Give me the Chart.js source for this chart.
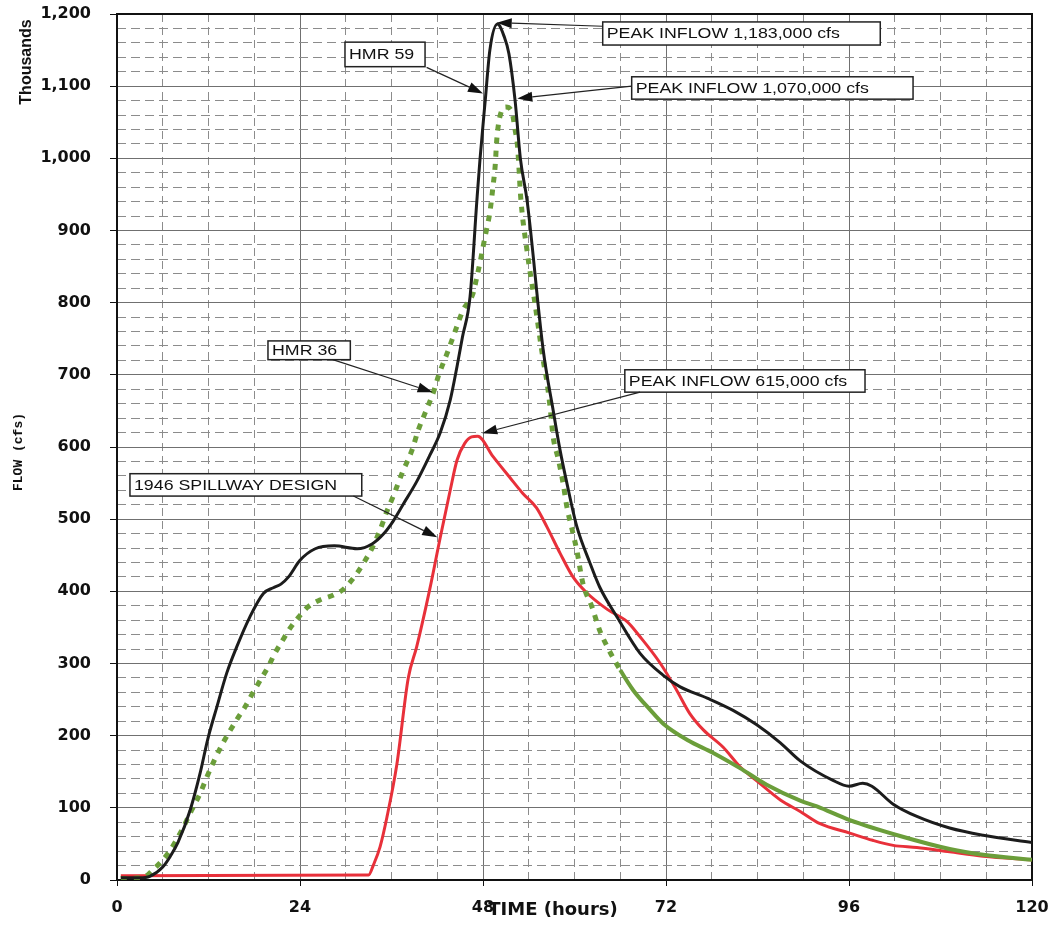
<!DOCTYPE html>
<html>
<head>
<meta charset="utf-8">
<script src="https://cdn.jsdelivr.net/npm/chart.js@4.4.0/dist/chart.umd.min.js"></script>
<style>
  body { margin: 0; background: #fff; }
  #wrap { width: 1053px; height: 927px; }
</style>
</head>
<body>
<div id="wrap"><canvas id="myChart" width="1053" height="927"></canvas></div>
<script>
// HMR 59 (black)
var hmr59Hours = [0.5, 3, 4.3, 6, 7, 8, 9.6, 10.9, 11.9, 13.1, 14.4, 15.7, 17.4, 19.2, 20.5, 21.5, 22.5, 24, 26, 28.5, 31.5, 33.5, 35, 36.2, 37.5, 39.3, 41, 42.4, 43.7, 44.6, 45.3, 46.3, 47.2, 47.6, 48.3, 48.9, 49.9, 50.8, 51.4, 52.2, 52.9, 53.8, 55.9, 57.2, 58.1, 59, 60.3, 62, 63.3, 65.6, 68.6, 71.6, 73.8, 77.4, 80.8, 83.9, 87, 89.6, 93.9, 96, 97.8, 99, 101.8, 104.9, 109.2, 113.6, 120];
var hmr59Flow = [3, 3, 5, 18, 33, 52, 97, 148, 195, 240, 287, 323, 364, 397, 405, 410, 420, 443, 459, 463, 459, 466, 480, 497, 520, 552, 588, 620, 665, 712, 752, 808, 942, 998, 1081, 1150, 1186, 1168, 1145, 1081, 1000, 940, 734, 651, 596, 550, 490, 440, 406, 364, 314, 284, 268, 252, 235, 215, 190, 165, 138, 130, 134, 130, 105, 88, 72, 62, 52];

// HMR 36 (green dotted)
var hmr36Hours = [0.5, 3.5, 4.7, 6.7, 8.5, 9.8, 10.9, 11.8, 12.9, 13.9, 15.7, 16.8, 17.8, 18.8, 19.8, 20.7, 21.6, 22.7, 23.8, 25, 26.6, 28.4, 29.6, 30.6, 31.6, 32.5, 33.5, 34.5, 35.4, 36.2, 37.4, 38.7, 39.5, 40.4, 41.5, 42.2, 43.3, 44.3, 45.4, 46.7, 47.2, 47.6, 48, 48.5, 48.9, 49.3, 49.6, 49.8, 50.2, 51, 51.8, 52.2, 52.5, 52.7, 52.9, 53.8, 54.8, 55.9, 56.4, 56.8, 57.2, 57.9, 58.5, 59, 59.7, 60.3, 61.1, 62.3, 63.3, 64.4, 66, 67.7, 69.9, 71.6, 74.8, 78.2, 81.7, 85.2, 89.6, 91.8, 96.1, 102.7, 109.2, 113.6, 120];
var hmr36Flow = [2, 4, 14, 37, 69, 97, 120, 143, 169, 190, 222, 240, 259, 277, 295, 314, 330, 349, 364, 378, 388, 395, 402, 413, 427, 442, 461, 485, 511, 531, 564, 596, 623, 647, 676, 700, 730, 759, 790, 813, 836, 855, 877, 903, 925, 960, 990, 1025, 1057, 1071, 1064, 1040, 1020, 990, 952, 870, 800, 720, 689, 655, 614, 582, 550, 517, 485, 457, 411, 378, 346, 321, 291, 263, 236, 217, 194, 176, 155, 132, 110, 102, 83, 61, 43, 35, 28];

// 1946 spillway design (red)
var spillwayHours = [0.5, 33, 33.6, 34.5, 35.4, 36.7, 38.2, 39.3, 41, 42.4, 43.7, 44.6, 45.6, 46.5, 47.3, 49.3, 51.5, 53.2, 55, 56.4, 58.1, 59.8, 61.6, 64.3, 66.9, 68.6, 71.2, 73.4, 75.1, 76.9, 79.5, 81.7, 84.3, 87, 89.6, 92.2, 96.1, 99.1, 101.8, 104.9, 109.2, 113.6, 120];
var spillwayFlow = [6, 7, 20, 46, 87, 160, 280, 323, 402, 475, 540, 582, 605, 614, 615, 587, 558, 536, 516, 489, 453, 420, 398, 375, 358, 337, 301, 263, 231, 208, 184, 157, 134, 111, 95, 78, 65, 55, 48, 45, 39, 33, 28];

function pts(xs, ys) {
  return xs.map(function (x, i) { return { x: x, y: ys[i] }; });
}

// callout boxes and arrows, in chart units (hours, thousand cfs)
var callouts = [
  { text: "PEAK INFLOW 1,183,000 cfs", x1: 63.7, x2: 100.1, y1: 1189, y2: 1157, from: [63.7, 1183], to: [49.8, 1188] },
  { text: "HMR 59", x1: 29.9, x2: 40.4, y1: 1161, y2: 1127, from: [40.6, 1126], to: [48.0, 1090] },
  { text: "PEAK INFLOW 1,070,000 cfs", x1: 67.5, x2: 104.4, y1: 1113, y2: 1082, from: [67.5, 1100], to: [52.5, 1083] },
  { text: "HMR 36", x1: 19.8, x2: 30.6, y1: 747, y2: 721, from: [28.3, 721], to: [41.4, 676] },
  { text: "PEAK INFLOW 615,000 cfs", x1: 66.6, x2: 98.1, y1: 707, y2: 676, from: [68.6, 676], to: [47.9, 619] },
  { text: "1946 SPILLWAY DESIGN", x1: 1.7, x2: 32.1, y1: 563, y2: 532, from: [31.0, 532], to: [42.0, 475] }
];

var framePlugin = {
  id: "frame",
  beforeDatasetsDraw: function (chart) {
    var a = chart.chartArea, ctx = chart.ctx;
    ctx.save();
    ctx.strokeStyle = "#111";
    ctx.lineWidth = 2;
    ctx.strokeRect(a.left, a.top, a.right - a.left, a.bottom - a.top);
    ctx.restore();
  },
  afterDraw: function (chart) {
    var ctx = chart.ctx;
    ctx.save();
    ctx.fillStyle = "#111";
    // Thousands
    ctx.save();
    ctx.translate(27, 62);
    ctx.rotate(-Math.PI / 2);
    ctx.font = "bold 16px 'Liberation Sans', Arial";
    ctx.textAlign = "center";
    ctx.textBaseline = "middle";
    ctx.fillText("Thousands", 0, 0);
    ctx.restore();
    // FLOW (cfs)
    ctx.save();
    ctx.translate(19, 452);
    ctx.rotate(-Math.PI / 2);
    ctx.font = "bold 13px 'Liberation Mono', monospace";
    ctx.textAlign = "center";
    ctx.textBaseline = "middle";
    ctx.fillText("FLOW (cfs)", 0, 0);
    ctx.restore();
    // TIME (hours)
    ctx.font = "bold 18px 'DejaVu Sans'";
    ctx.textAlign = "center";
    ctx.textBaseline = "middle";
    ctx.fillText("TIME (hours)", 553, 910);
    ctx.restore();
  }
};

var calloutPlugin = {
  id: "callouts",
  afterDatasetsDraw: function (chart) {
    var ctx = chart.ctx, xs = chart.scales.x, ys = chart.scales.y;
    ctx.save();
    callouts.forEach(function (c) {
      var l = xs.getPixelForValue(c.x1), r = xs.getPixelForValue(c.x2);
      var t = ys.getPixelForValue(c.y1), b = ys.getPixelForValue(c.y2);
      ctx.fillStyle = "#fff";
      ctx.fillRect(l, t, r - l, b - t);
      ctx.strokeStyle = "#222";
      ctx.lineWidth = 1.5;
      ctx.strokeRect(l, t, r - l, b - t);
      ctx.fillStyle = "#111";
      ctx.font = "14px 'Liberation Sans', Arial";
      ctx.textBaseline = "middle";
      ctx.save();
      ctx.translate(l + 4, (t + b) / 2 + 1);
      ctx.scale(1.27, 1);
      ctx.fillText(c.text, 0, 0);
      ctx.restore();

      // arrow
      var x0 = xs.getPixelForValue(c.from[0]), y0 = ys.getPixelForValue(c.from[1]);
      var x1 = xs.getPixelForValue(c.to[0]), y1 = ys.getPixelForValue(c.to[1]);
      var ang = Math.atan2(y1 - y0, x1 - x0);
      var len = 15, hw = 5;
      var bx = x1 - len * Math.cos(ang), by = y1 - len * Math.sin(ang);
      ctx.strokeStyle = "#222";
      ctx.lineWidth = 1.2;
      ctx.beginPath();
      ctx.moveTo(x0, y0);
      ctx.lineTo(bx, by);
      ctx.stroke();
      ctx.fillStyle = "#111";
      ctx.beginPath();
      ctx.moveTo(x1, y1);
      ctx.lineTo(bx + hw * Math.sin(ang), by - hw * Math.cos(ang));
      ctx.lineTo(bx - hw * Math.sin(ang), by + hw * Math.cos(ang));
      ctx.closePath();
      ctx.fill();
    });
    ctx.restore();
  }
};

function isMajor(c, step) {
  return c.tick && Math.round(c.tick.value) % step === 0;
}

var ctx = document.getElementById("myChart").getContext("2d");
var myChart = new Chart(ctx, {
  type: "line",
  data: {
    datasets: [
      {
        label: "HMR 59",
        data: pts(hmr59Hours, hmr59Flow),
        borderColor: "#1c1c1c",
        borderWidth: 3,
        pointRadius: 0,
        cubicInterpolationMode: "monotone",
        fill: false
      },
      {
        label: "HMR 36",
        data: pts(hmr36Hours, hmr36Flow),
        borderColor: "#6b9e3a",
        borderWidth: 5,
        borderCapStyle: "butt",
        pointRadius: 0,
        cubicInterpolationMode: "monotone",
        fill: false,
        segment: {
          borderDash: function (c) { return c.p0.parsed.x >= 66 ? [] : [6, 7]; },
          borderWidth: function (c) { return c.p0.parsed.x >= 66 ? 4 : 5; }
        }
      },
      {
        label: "1946 SPILLWAY DESIGN",
        data: pts(spillwayHours, spillwayFlow),
        borderColor: "#e8303a",
        borderWidth: 3,
        pointRadius: 0,
        cubicInterpolationMode: "monotone",
        fill: false
      }
    ]
  },
  options: {
    responsive: false,
    animation: false,
    layout: { autoPadding: false, padding: { top: 14, right: 21, left: 0, bottom: 0 } },
    plugins: {
      legend: { display: false },
      tooltip: { enabled: false }
    },
    scales: {
      x: {
        type: "linear",
        min: 0,
        max: 120,
        afterFit: function (s) { s.height = 47; },
        border: { display: false, dash: function (c) { return c.tick && !isMajor(c, 24) ? [8, 5] : []; } },
        grid: {
          color: function (c) { return isMajor(c, 24) ? "#707070" : "#8c8c8c"; },
          lineWidth: 1,
          // long tick slot keeps labels clear of the axis, only 6px are painted
          tickLength: 18,
          tickBorderDash: [6, 100],
          tickColor: function (c) { return isMajor(c, 24) ? "#111" : "rgba(0,0,0,0)"; }
        },
        ticks: {
          stepSize: 6,
          autoSkip: false,
          maxRotation: 0,
          padding: 0,
          color: "#111",
          font: { family: "DejaVu Sans", weight: "bold", size: 16 },
          callback: function (v) { return Math.round(v) % 24 === 0 ? String(Math.round(v)) : ""; }
        }
      },
      y: {
        min: 0,
        max: 1200,
        afterFit: function (s) { s.width = 117; },
        border: { display: false, dash: function (c) { return c.tick && !isMajor(c, 100) ? [9, 5] : []; } },
        grid: {
          color: function (c) { return isMajor(c, 100) ? "#707070" : "#8c8c8c"; },
          lineWidth: 1,
          tickLength: 26,
          tickBorderDash: [0, 19, 7, 100],
          tickColor: function (c) { return isMajor(c, 100) ? "#111" : "rgba(0,0,0,0)"; }
        },
        ticks: {
          stepSize: 20,
          autoSkip: false,
          padding: 0,
          color: "#111",
          font: { family: "DejaVu Sans", weight: "bold", size: 16 },
          callback: function (v) {
            var n = Math.round(v);
            return n % 100 === 0 ? n.toLocaleString("en-US") : "";
          }
        }
      }
    }
  },
  plugins: [framePlugin, calloutPlugin]
});
</script>
</body>
</html>
